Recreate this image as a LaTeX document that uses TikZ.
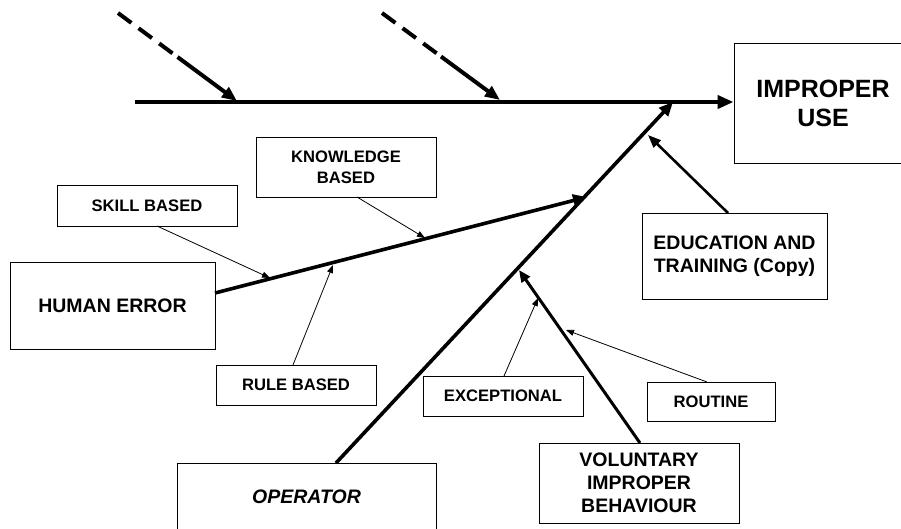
\documentclass[tikz,border=0pt]{standalone}
\usepackage{fontspec}
\setmainfont{Liberation Sans}
\usetikzlibrary{arrows.meta}
\begin{document}
\begin{tikzpicture}[x=1pt,y=-1pt,
  box/.style={draw, line width=0.9pt, inner sep=0pt, align=center},
  fs/.style={font=\bfseries\fontsize{16.6}{21}\selectfont},
  fm/.style={font=\bfseries\fontsize{19.5}{23}\selectfont},
  fl/.style={font=\bfseries\fontsize{25}{29}\selectfont},
  spine/.style={line width=4pt, -{Triangle[length=16pt,width=13pt]}},
  bone/.style={line width=3.6pt, -{Triangle[length=14pt,width=12pt]}},
  subbone/.style={line width=3pt, -{Triangle[length=12pt,width=10pt]}},
  thin/.style={line width=0.8pt, -{Triangle[length=8pt,width=6pt]}},
  dashpart/.style={line width=4pt, dash pattern=on 16.6pt off 9pt},
  solidpart/.style={line width=4pt, -{Triangle[length=15pt,width=12pt]}}
]
\path[use as bounding box, clip] (0,0) rectangle (901,528);
\fill[white] (0,0) rectangle (901,528);

% boxes
\node[box, fl, minimum width=178, minimum height=120] (use) at (823,103) {IMPROPER\\USE};
\node[box, fm, minimum width=205, minimum height=87] (he) at (112.5,305.5) {HUMAN ERROR};
\node[box, fs, minimum width=180, minimum height=41] (skill) at (147,205.5) {SKILL BASED};
\node[box, fs, minimum width=180, minimum height=60] (know) at (346,167) {KNOWLEDGE\\BASED};
\node[box, fs, minimum width=160, minimum height=40] (rule) at (296,385) {RULE BASED};
\node[box, font=\bfseries\itshape\fontsize{19.5}{23}\selectfont, minimum width=259, minimum height=68] (op) at (306.5,497) {OPERATOR};
\node[box, fs, minimum width=160, minimum height=40] (exc) at (503,396) {EXCEPTIONAL};
\node[box, fs, minimum width=128, minimum height=39] (rout) at (711,401.5) {ROUTINE};
\node[box, fm, minimum width=200, minimum height=80] (vol) at (639,483) {VOLUNTARY\\IMPROPER\\BEHAVIOUR};
\node[box, fm, minimum width=185, minimum height=86] (edu) at (734.5,256) {EDUCATION AND\\TRAINING (Copy)};

% junction coordinates
\coordinate (s0) at (135,102);
\coordinate (jop) at (673,102);
\coordinate (opS) at (336,463);
\coordinate (heS) at (215,293);
\coordinate (jhe) at (587,197);
\coordinate (volS) at (640,443);
\coordinate (jvol) at (519,270);
\coordinate (eduS) at (728,213);
\coordinate (jedu) at (648,135);
\coordinate (skS) at (157,226);
\coordinate (jsk) at (270,278);
\coordinate (knS) at (357,197);
\coordinate (jkn) at (425,238);
\coordinate (ruS) at (293,365);
\coordinate (jru) at (333,265);
\coordinate (exS) at (504,376);
\coordinate (jex) at (538,298);
\coordinate (roS) at (707,382);
\coordinate (jro) at (566,330);
\coordinate (dA0) at (118,13);
\coordinate (dA1) at (177.5,57);
\coordinate (jA) at (237,101);
\coordinate (dB0) at (382,13);
\coordinate (dB1) at (441,56.5);
\coordinate (jB) at (500,100);

% main spine
\draw[spine] (s0) -- (s0 -| use.west);
% dashed causes
\draw[dashpart] (dA0) -- (dA1);
\draw[solidpart] (dA1) -- (jA);
\draw[dashpart] (dB0) -- (dB1);
\draw[solidpart] (dB1) -- (jB);
% bones
\draw[bone] (opS) -- (jop);
\draw[bone] (heS) -- (jhe);
\draw[subbone] (volS) -- (jvol);
\draw[line width=2.6pt, -{Triangle[length=13pt,width=10pt]}] (eduS) -- (jedu);
% thin arrows
\draw[thin] (skS) -- (jsk);
\draw[thin] (knS) -- (jkn);
\draw[thin] (ruS) -- (jru);
\draw[thin] (exS) -- (jex);
\draw[thin] (roS) -- (jro);
\end{tikzpicture}
\end{document}
